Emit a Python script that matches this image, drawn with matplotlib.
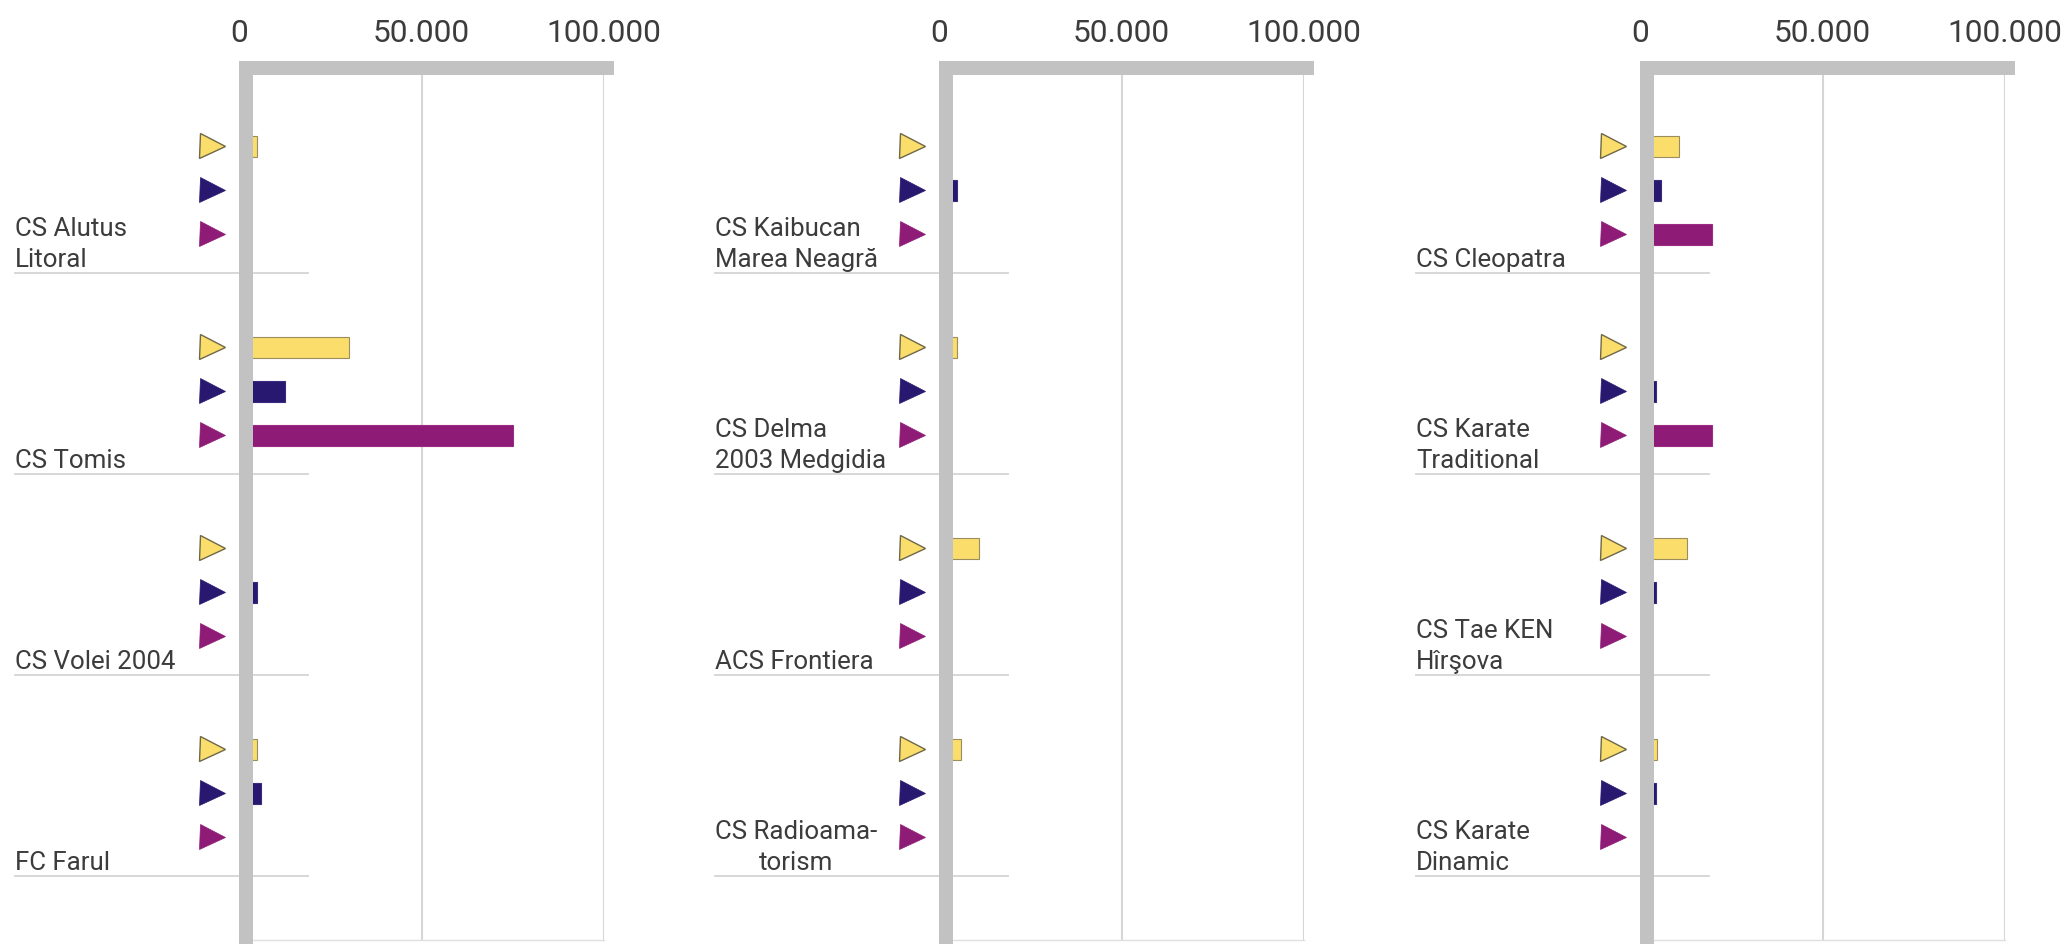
import numpy as np
import matplotlib.pyplot as plt
import matplotlib.transforms as mtransforms
from matplotlib.patches import Rectangle

plt.rcParams['font.family'] = ['Roboto', 'DejaVu Sans']

# data: one panel per list entry, groups top to bottom
panel_labels = [
    ['CS Alutus\nLitoral', 'CS Tomis', 'CS Volei 2004', 'FC Farul'],
    ['CS Kaibucan\nMarea Neagră', 'CS Delma\n2003 Medgidia', 'ACS Frontiera', 'CS Radioama-\ntorism'],
    ['CS Cleopatra', 'CS Karate\nTraditional', 'CS Tae KEN\nHîrşova', 'CS Karate\nDinamic'],
]
yellow_vals = [[5000, 30000, 0, 5000], [0, 5000, 11000, 6000], [10700, 0, 13000, 4600]]
blue_vals = [[0, 12700, 5000, 6000], [5000, 0, 0, 0], [5700, 4500, 4500, 4500]]
purple_vals = [[0, 75200, 0, 0], [0, 0, 0, 0], [19700, 19700, 0, 0]]
tick_values = [0, 50000, 100000]
tick_labels = ['0', '50.000', '100.000']

series_colors = ['#FBDD6C', '#29186F', '#8E1C77']
series_edges = ['#9A8F5C', '#3A2A80', '#9A2C86']
text_color = '#3C3C3C'
axis_gray = '#C2C2C2'

# layout in pixels
W, H = 2065, 944
zero_x = [239, 939, 1640]
plot_w = 365          # px from 0 to 100.000
ax_top, ax_bot = 61, 940
first_center, step = 190, 201
xmax = 100000


def px(p):
    # horizontal pixels -> data units
    return p / plot_w * xmax


fig = plt.figure(figsize=(W / 100, H / 100), dpi=100)

for k in range(3):
    ax = fig.add_axes([zero_x[k] / W, (H - ax_bot) / H, plot_w / W, (ax_bot - ax_top) / H])
    ax.set_xlim(0, xmax)
    ax.set_ylim((ax_bot - first_center) / step, (ax_top - first_center) / step)
    h_axes = ax_bot - ax_top

    ys = np.arange(4)
    offs = [-44 / step, 0, 44 / step]
    vals = [yellow_vals[k], blue_vals[k], purple_vals[k]]
    for j in range(3):
        ax.barh(ys + offs[j], vals[j], height=21 / step, color=series_colors[j],
                edgecolor=series_edges[j], linewidth=0.8, zorder=2)
        ax.plot(np.full(4, px(-27)), ys + offs[j], linestyle='none', marker='>',
                markersize=18, color=series_colors[j],
                markeredgecolor='#6E6848' if j == 0 else series_colors[j],
                markeredgewidth=1.0 if j == 0 else 0.5, clip_on=False, zorder=4)

    # group separators and labels
    for i, lab in enumerate(panel_labels[k]):
        ysep = i + 83 / step
        ax.plot([px(-224), px(69)], [ysep, ysep], color='#D4D4D4', lw=1.3,
                clip_on=False, zorder=1)
        ax.text(px(-224), ysep - 1 / step, lab, ha='left', va='bottom',
                fontsize=18.6, color=text_color, linespacing=1.36,
                multialignment='center' if lab.endswith('torism') else 'left')

    # thick gray axis bars
    trans = mtransforms.blended_transform_factory(ax.transData, ax.transAxes)
    ax.add_patch(Rectangle((0, -4 / h_axes), px(14), 1 + 4 / h_axes, transform=trans,
                           color=axis_gray, lw=0, clip_on=False, zorder=5))
    ax.add_patch(Rectangle((0, 1 - 14 / h_axes), px(375), 14 / h_axes, transform=trans,
                           color=axis_gray, lw=0, clip_on=False, zorder=5))

    ax.xaxis.tick_top()
    ax.set_xticks(tick_values, tick_labels)
    ax.tick_params(axis='x', length=0, pad=9, labelsize=22.8, labelcolor=text_color)
    ax.set_yticks([])
    ax.grid(axis='x', color='#D6D6D6', lw=1.5)
    ax.set_axisbelow(True)
    for s in ['top', 'left', 'right']:
        ax.spines[s].set_visible(False)
    ax.spines['bottom'].set_color('#E0E0E0')
    ax.spines['bottom'].set_linewidth(1.0)

fig.savefig('out.png', dpi=100)
